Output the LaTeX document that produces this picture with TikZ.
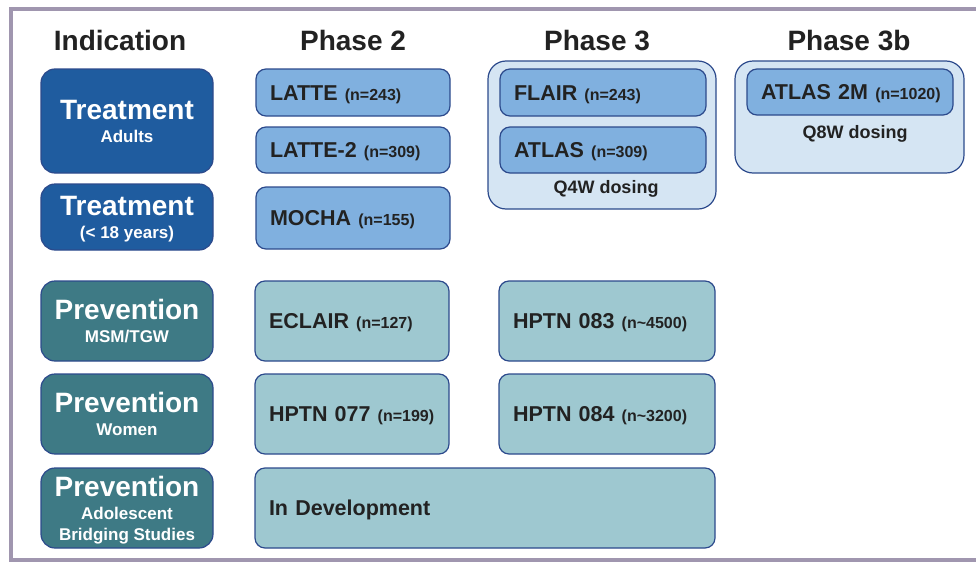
\documentclass[tikz,border=0pt]{standalone}
\usepackage{fontspec}
\setmainfont{Liberation Sans}
\usepackage{xcolor}
\usetikzlibrary{positioning}
\definecolor{indblue}{HTML}{1F5C9F}
\definecolor{indteal}{HTML}{3E7A85}
\definecolor{trialblue}{HTML}{80B0DF}
\definecolor{trialteal}{HTML}{9EC8D0}
\definecolor{groupfill}{HTML}{D5E5F3}
\definecolor{edgeblue}{HTML}{2C4A8C}
\definecolor{framegrey}{HTML}{A096AF}
\definecolor{inktext}{HTML}{222222}
\newcommand{\trialn}[1]{{\fontsize{16}{19}\selectfont #1}}
\newcommand{\indtitle}[1]{{\fontsize{28}{23}\selectfont #1}}

\begin{document}
\begin{tikzpicture}[
        x=1pt, y=-1pt,
        indbox/.style={
            draw=edgeblue,
            line width=1.2pt,
            outer sep=0pt,
            rounded corners=14pt,
            text=white,
            align=center,
            minimum width=172pt,
            text depth=0pt,
            font=\bfseries\fontsize{17}{23}\selectfont
        },
        trialbox/.style={
            draw=edgeblue,
            line width=1.2pt,
            outer sep=0pt,
            rounded corners=10pt,
            text=inktext,
            align=left,
            inner xsep=14pt,
            inner ysep=0pt,
            text height=15.5pt,
            text depth=0pt,
            font=\bfseries\fontsize{21.5}{24}\selectfont
        },
        groupbox/.style={
            draw=edgeblue,
            line width=1.2pt,
            outer sep=0pt,
            fill=groupfill,
            rounded corners=18pt
        },
        heading/.style={anchor=base, text=inktext, font=\bfseries\fontsize{28}{32}\selectfont},
        dosing/.style={anchor=base, text=inktext, font=\bfseries\fontsize{18}{21}\selectfont}
    ]
        \useasboundingbox (0,0) rectangle (976,562);
        \draw[framegrey, line width=4pt] (976,9) -- (11,9) -- (11,560) -- (976,560);

        \node[heading] (hind) at (120,50) {Indication};
        \node[heading] (hphasetwo) at (353,50) {Phase 2};
        \node[heading] (hphasethree) at (597,50) {Phase 3};
        \node[heading] (hphasethreeb) at (849,50) {Phase 3b};

        \node[indbox, fill=indblue, minimum height=104pt, anchor=north west] (treatadult) at (41,69) {\indtitle{Treatment}\\Adults};
        \node[indbox, fill=indblue, minimum height=66pt, below=11pt of treatadult] (treatyouth) {\indtitle{Treatment}\\(< 18 years)};
        \node[indbox, fill=indteal, minimum height=80pt, below=31pt of treatyouth] (prevmsm) {\indtitle{Prevention}\\MSM/TGW};
        \node[indbox, fill=indteal, minimum height=80pt, below=13pt of prevmsm] (prevwomen) {\indtitle{Prevention}\\Women};
        \node[indbox, fill=indteal, minimum height=80pt, below=14pt of prevwomen] (prevadol) {\indtitle{Prevention}\\Adolescent\\[-2pt]Bridging Studies};

        \node[trialbox, fill=trialblue, text width=166pt, minimum height=47pt, anchor=north west] (latte) at (256,69) {LATTE~\trialn{(n=243)}};
        \node[trialbox, fill=trialblue, text width=166pt, minimum height=46pt, below=11pt of latte] (lattetwo) {LATTE-2~\trialn{(n=309)}};
        \node[trialbox, fill=trialblue, text width=166pt, minimum height=62pt, below=14pt of lattetwo] (mocha) {MOCHA~\trialn{(n=155)}};
        \node[trialbox, fill=trialteal, text width=166pt, minimum height=80pt, right=42pt of prevmsm] (eclair) {ECLAIR~\trialn{(n=127)}};
        \node[trialbox, fill=trialteal, text width=166pt, minimum height=80pt, right=42pt of prevwomen] (hptn077) {HPTN~077~\trialn{(n=199)}};
        \node[trialbox, fill=trialteal, text width=432pt, minimum height=80pt, right=42pt of prevadol] (indev) {In Development};

        \node[groupbox, minimum width=228pt, minimum height=148pt, anchor=north west] (phasethreegrp) at (488,61) {};
        \node[trialbox, fill=trialblue, text width=178pt, minimum height=47pt, anchor=north west] (flair) at (500,69) {FLAIR~\trialn{(n=243)}};
        \node[trialbox, fill=trialblue, text width=178pt, minimum height=46pt, below=11pt of flair] (atlas) {ATLAS~\trialn{(n=309)}};
        \node[dosing] (qfour) at (606,193) {Q4W dosing};
        \node[trialbox, fill=trialteal, text width=188pt, minimum height=80pt, right=50pt of eclair] (hptn083) {HPTN~083~\trialn{(n\textasciitilde 4500)}};
        \node[trialbox, fill=trialteal, text width=188pt, minimum height=80pt, below=13pt of hptn083] (hptn084) {HPTN~084~\trialn{(n\textasciitilde 3200)}};

        \node[groupbox, minimum width=229pt, minimum height=112pt, anchor=north west] (phasethreebgrp) at (735,61) {};
        \node[trialbox, fill=trialblue, text width=178pt, minimum height=46pt, anchor=north west] (atlastwom) at (747,69) {ATLAS~2M~\trialn{(n=1020)}};
        \node[dosing] (qeight) at (855,138) {Q8W dosing};
    \end{tikzpicture}
\end{document}
